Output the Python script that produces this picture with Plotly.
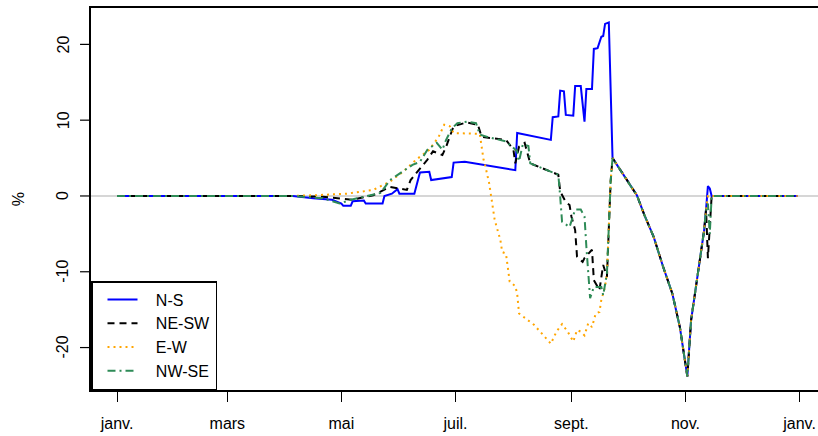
import plotly.graph_objects as go

# Stretch shared by all four series (late Sept. to mid-Nov.)
tail_dates = ["2021-09-23", "2021-10-03", "2021-10-06", "2021-10-10", "2021-10-15",
              "2021-10-20", "2021-10-25", "2021-10-29", "2021-11-02", "2021-11-04",
              "2021-11-08", "2021-11-11", "2021-11-12"]
tail_values = [5.0, 1.2, 0.1, -2.5, -5.4, -9.3, -12.9, -17.3, -23.8, -16.4, -9.3, -4.5, -1.8]

ns_dates = ["2021-01-01", "2021-04-05", "2021-04-16", "2021-04-26", "2021-05-01", "2021-05-02",
            "2021-05-06", "2021-05-07", "2021-05-13", "2021-05-14", "2021-05-23", "2021-05-24",
            "2021-05-28", "2021-05-31", "2021-06-01", "2021-06-09", "2021-06-12", "2021-06-17",
            "2021-06-18", "2021-06-29", "2021-06-30", "2021-07-06", "2021-08-02", "2021-08-03",
            "2021-08-21", "2021-08-22", "2021-08-25", "2021-08-26", "2021-08-28", "2021-08-29",
            "2021-09-02", "2021-09-03", "2021-09-06", "2021-09-08", "2021-09-09", "2021-09-12",
            "2021-09-13", "2021-09-15", "2021-09-17", "2021-09-18", "2021-09-19", "2021-09-21"] \
    + tail_dates + ["2021-11-13", "2021-11-14", "2021-11-15", "2021-12-31"]
ns_values = [0, 0, -0.3, -0.5, -1.0, -1.3,
             -1.3, -0.7, -0.6, -1.0, -1.0, 0.0,
             0.3, 0.9, 0.3, 0.3, 3.1, 3.2,
             2.1, 2.5, 4.4, 4.5, 3.4, 8.3,
             7.4, 10.4, 10.5, 13.9, 13.8, 10.7,
             10.6, 14.5, 14.5, 9.8, 14.1, 14.1,
             19.4, 19.5, 21.0, 21.1, 22.7, 22.9] \
    + tail_values + [1.3, 1.0, 0, 0]

nesw_dates = ["2021-01-01", "2021-04-05", "2021-04-21", "2021-05-07", "2021-05-18", "2021-05-27",
              "2021-06-05", "2021-06-07", "2021-06-10", "2021-06-16", "2021-06-19", "2021-06-24",
              "2021-06-26", "2021-06-30", "2021-07-07", "2021-07-13", "2021-07-15", "2021-07-28",
              "2021-08-01", "2021-08-02", "2021-08-04", "2021-08-07", "2021-08-10", "2021-08-21",
              "2021-08-25", "2021-08-26", "2021-08-29", "2021-08-31", "2021-09-01", "2021-09-03",
              "2021-09-04", "2021-09-07", "2021-09-08", "2021-09-12", "2021-09-13", "2021-09-16",
              "2021-09-18", "2021-09-20", "2021-09-22"] \
    + tail_dates + ["2021-11-13", "2021-11-15", "2021-12-31"]
nesw_values = [0, 0, -0.1, -0.5, 0.1, 1.2,
               0.8, 2.1, 3.0, 4.8, 5.9, 5.4,
               6.5, 9.2, 9.7, 9.4, 7.8, 7.4,
               6.1, 4.3, 6.5, 7.0, 4.3, 3.2,
               2.8, 0.6, -0.8, -1.2, -2.7, -4.5,
               -8.0, -8.7, -8.2, -7.1, -11.1, -12.4,
               -9.1, -10.7, 2.0] \
    + tail_values + [-8.2, 0, 0]

ew_dates = ["2021-01-01", "2021-04-05", "2021-04-17", "2021-05-04", "2021-05-18", "2021-05-27",
            "2021-06-03", "2021-06-10", "2021-06-17", "2021-06-22", "2021-06-25", "2021-06-28",
            "2021-06-30", "2021-07-14", "2021-07-16", "2021-07-17", "2021-07-19", "2021-07-21",
            "2021-07-22", "2021-07-25", "2021-07-26", "2021-07-28", "2021-07-29", "2021-07-30",
            "2021-08-02", "2021-08-03", "2021-08-04", "2021-08-06", "2021-08-12", "2021-08-16",
            "2021-08-21", "2021-08-24", "2021-08-27", "2021-08-30", "2021-09-02", "2021-09-04",
            "2021-09-06", "2021-09-08", "2021-09-10", "2021-09-12", "2021-09-14", "2021-09-16",
            "2021-09-17", "2021-09-19", "2021-09-20", "2021-09-22"] \
    + tail_dates + ["2021-11-13", "2021-12-31"]
ew_values = [0, 0, 0.1, 0.3, 0.8, 1.9,
             3.2, 4.8, 6.1, 7.8, 9.4, 9.2,
             8.3, 8.2, 4.8, 3.9, 1.7, -1.4,
             -3.2, -5.8, -7.4, -7.6, -9.6, -11.3,
             -11.9, -12.9, -15.5, -15.9, -17.0, -18.1,
             -19.5, -17.9, -16.9, -17.9, -19.2, -17.7,
             -17.9, -18.4, -16.8, -17.3, -15.5, -15.3,
             -13.7, -12.0, -10.2, 2.1] \
    + tail_values + [0, 0]

nwse_dates = ["2021-01-01", "2021-04-05", "2021-04-21", "2021-04-30", "2021-05-06", "2021-05-15",
              "2021-05-22", "2021-05-27", "2021-06-08", "2021-06-12", "2021-06-16", "2021-06-21",
              "2021-06-24", "2021-06-26", "2021-06-29", "2021-07-02", "2021-07-07", "2021-07-12",
              "2021-07-14", "2021-07-18", "2021-07-28", "2021-08-03", "2021-08-04", "2021-08-06",
              "2021-08-09", "2021-08-10", "2021-08-21", "2021-08-25", "2021-08-26", "2021-08-27",
              "2021-08-31", "2021-09-03", "2021-09-06", "2021-09-08", "2021-09-09", "2021-09-10",
              "2021-09-11", "2021-09-13", "2021-09-17", "2021-09-18", "2021-09-20", "2021-09-22"] \
    + tail_dates + ["2021-11-13", "2021-11-14", "2021-11-15", "2021-12-31"]
nwse_values = [0, 0, -0.3, -1.0, -0.5, 0.0,
               0.4, 2.1, 4.1, 4.5, 6.1, 7.0,
               6.1, 7.4, 8.9, 9.6, 9.8, 9.6,
               8.1, 7.8, 7.2, 5.9, 4.6, 6.8,
               6.6, 4.3, 3.2, 2.8, -0.1, -3.4,
               -4.1, -1.8, -1.8, -2.7, -6.7, -10.2,
               -13.5, -12.0, -12.0, -13.1, -10.2, 2.0] \
    + tail_values + [-1.0, -5.0, 0, 0]

tick_vals = ["2021-01-01", "2021-03-01", "2021-05-01", "2021-07-01",
             "2021-09-01", "2021-11-01", "2022-01-01"]
tick_text = ["janv.", "mars", "mai", "juil.", "sept.", "nov.", "janv."]
y_ticks = [-20, -10, 0, 10, 20]
y_tick_text = ["-20", "-10", "0", "10", "20"]

series = [
    ("N-S", ns_dates, ns_values, "#0000FF", "solid"),
    ("NE-SW", nesw_dates, nesw_values, "#000000", "7px,5px"),
    ("E-W", ew_dates, ew_values, "#FFA500", "2px,4px"),
    ("NW-SE", nwse_dates, nwse_values, "#2E8B57", "8px,4px,2px,4px"),
]

pad = "\u00a0\u00a0\u00a0"  # push legend text right, like R's legend
fig = go.Figure()
for name, xs, ys, color, dash in series:
    fig.add_trace(go.Scatter(x=xs, y=ys, mode="lines", name=pad + name,
                             line=dict(color=color, width=2, dash=dash)))

# light grey reference line at zero
fig.add_shape(type="line", xref="paper", x0=0, x1=1, y0=0, y1=0,
              line=dict(color="#c8c8c8", width=1.5), layer="below")

# y ticks + sideways labels, R style
for v, txt in zip(y_ticks, y_tick_text):
    fig.add_shape(type="line", xref="paper", yref="y", x0=-0.0151, x1=0, y0=v, y1=v,
                  line=dict(color="black", width=1.2))
    fig.add_annotation(text=txt, xref="paper", yref="y", x=-0.0385, y=v,
                       xanchor="center", yanchor="middle", textangle=-90,
                       showarrow=False, font=dict(size=16))

fig.add_annotation(text="%", xref="paper", yref="paper", x=-0.1, y=0.5,
                   xanchor="center", yanchor="middle",
                   textangle=-90, showarrow=False, font=dict(size=16))

fig.update_layout(
    width=818, height=436,
    margin=dict(l=91, r=0, t=8, b=46),
    plot_bgcolor="white", paper_bgcolor="white",
    font=dict(family="Liberation Sans, Arial, sans-serif", size=16, color="black"),
    xaxis=dict(type="date", range=["2020-12-18 02:00", "2022-01-10 21:00"],
               tickvals=tick_vals, ticktext=tick_text, ticks="outside", ticklen=10,
               tickwidth=1.2, ticklabelstandoff=8,
               tickcolor="black", showline=True, linecolor="black", linewidth=1.5,
               mirror=True, showgrid=False, zeroline=False),
    yaxis=dict(range=[-25.6, 24.8], tickvals=y_ticks, showticklabels=False,
               ticks="", showline=True, linecolor="black", linewidth=1.5,
               showgrid=False, zeroline=False),
    legend=dict(x=0, y=0, xanchor="left", yanchor="bottom", bgcolor="white",
                bordercolor="black", borderwidth=1.5, indentation=10,
                entrywidth=120),
)

fig.write_html("out.html", config={"displayModeBar": False},
               post_script="document.body.style.margin='0';")
